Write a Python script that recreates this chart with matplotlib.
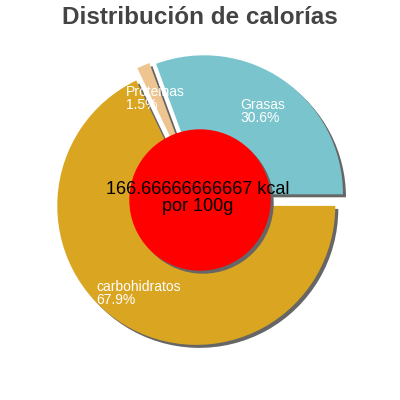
import matplotlib
matplotlib.use("Agg")
import matplotlib.pyplot as plt
import numpy as np

plt.rcParams['font.family'] = ['Liberation Sans', 'DejaVu Sans']

# data
labels = ["Grasas", "Proteinas", "carbohidratos"]
percents = [30.6, 1.5, 67.9]
colors = ["#7AC5CD", "#EEC591", "#DAA520"]
kcal_text = "166.66666666667 kcal\npor 100g"
title = "Distribución de calorías"

# layout (pixels -> pie units, radius = 1)
R_PX = 139.0
half = 200.0 / R_PX
explode = [0.05, 0.05, 0.05]
shadow_off = 3.0 / R_PX
label_pos = [(40, 98), (-74, 85), (-104, 280)]  # left/top of label, px from center-x / top

fig = plt.figure(figsize=(4, 4), dpi=100)
ax = fig.add_axes([0, 0, 1, 1])

# shadow of the pie
ax.pie(percents, colors=["#666666"] * 3, explode=explode, startangle=0,
       counterclock=True, center=(shadow_off, -shadow_off), radius=1.0,
       frame=True)
# pie itself
ax.pie(percents, colors=colors, explode=explode, startangle=0,
       counterclock=True, center=(0, 0), radius=1.0, frame=True)

# red centre disc with shadow
ax.add_patch(plt.Circle((shadow_off, -shadow_off), 70 / R_PX, color="#666666", zorder=3))
ax.add_patch(plt.Circle((0, 0), 70 / R_PX, color="#FF0000", zorder=4))

ax.set_xlim(-half, half)
ax.set_ylim(-half, half)
ax.set_aspect('equal')
ax.axis('off')

for lab, p, (px, py) in zip(labels, percents, label_pos):
    x = px / R_PX
    y = (200 - py) / R_PX
    ax.text(x, y, "%s\n%.1f%%" % (lab, p), color="white", fontsize=10,
            ha="left", va="top", linespacing=0.95, zorder=6)

ax.text(-2 / R_PX, 2 / R_PX, kcal_text, ha="center", va="center", fontsize=13,
        color="black", linespacing=0.95, zorder=6)

fig.text(0.5, 1 - 17 / 400, title, ha="center", va="center",
         fontsize=17.5, fontweight="bold", color="#444444")

fig.savefig("out.png", dpi=100)
